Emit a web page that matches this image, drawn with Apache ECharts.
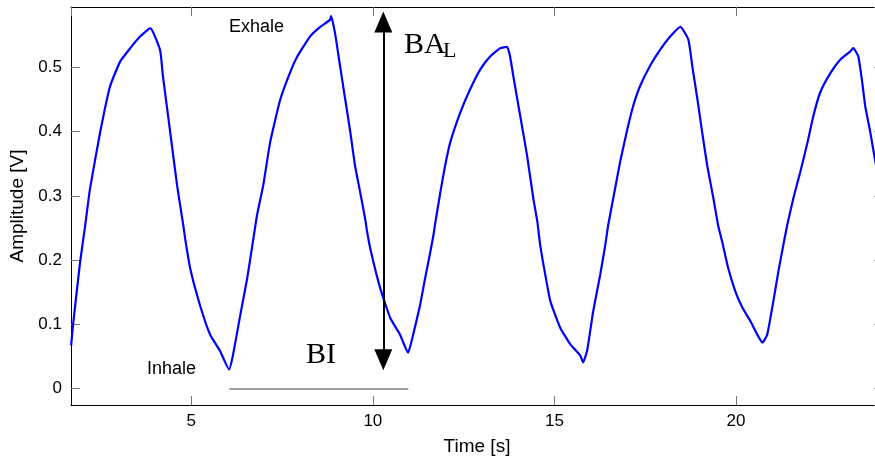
<!DOCTYPE html>
<html>
<head>
<meta charset="utf-8">
<script src="https://cdn.jsdelivr.net/npm/echarts@6/dist/echarts.min.js"></script>
<style>
html,body{margin:0;padding:0;background:#fff;overflow:hidden;width:875px;height:461px;}
#chart{width:900px;height:461px;}
</style>
</head>
<body>
<div id="chart"></div>
<script>
// ---- data ----
const timeS = [
  1.69, 1.745, 1.94, 2.08, 2.21, 2.49, 2.76, 3.04, 3.32, 3.59, 3.87, 4.14, 4.22, 4.42, 4.61, 4.78, 4.83, 4.97,
  5.24, 5.52, 5.79, 6.04, 6.15, 6.35, 6.54, 6.70, 6.81, 6.98, 7.17, 7.45, 7.72, 7.92, 8.27, 8.55, 8.82, 8.85,
  8.96, 9.10, 9.24, 9.38, 9.51, 9.65, 9.79, 9.84, 9.93, 10.20, 10.48, 10.75, 10.97, 11.11, 11.30, 11.44, 11.58,
  11.66, 11.72, 11.86, 11.99, 12.13, 12.41, 12.68, 12.96, 13.23, 13.51, 13.70, 13.78, 13.87, 14.06, 14.25, 14.42,
  14.53, 14.61, 14.75, 14.89, 15.16, 15.44, 15.71, 15.79, 15.90, 16.07, 16.26, 16.40, 16.48, 16.62, 16.81, 17.01,
  17.17, 17.36, 17.64, 17.92, 18.19, 18.47, 18.69, 18.80, 18.94, 19.07, 19.21, 19.38, 19.51, 19.62, 19.79, 19.98,
  20.18, 20.40, 20.59, 20.73, 20.86, 21.03, 21.17, 21.30, 21.41, 21.58, 21.77, 21.97, 22.13, 22.32, 22.60, 22.87,
  23.15, 23.23, 23.37, 23.48, 23.56, 23.70, 23.84, 23.95
];
const amplitudeV = [
  0.067, 0.100, 0.198, 0.255, 0.311, 0.399, 0.470, 0.509, 0.530, 0.548, 0.561, 0.527, 0.486, 0.399, 0.316, 0.254, 0.234, 0.187,
  0.130, 0.084, 0.059, 0.030, 0.053, 0.115, 0.172, 0.230, 0.270, 0.316, 0.383, 0.450, 0.492, 0.517, 0.548, 0.563, 0.574, 0.580,
  0.553, 0.501, 0.450, 0.399, 0.347, 0.306, 0.264, 0.245, 0.218, 0.157, 0.110, 0.084, 0.056, 0.084, 0.130, 0.172, 0.212,
  0.236, 0.258, 0.306, 0.347, 0.383, 0.430, 0.466, 0.497, 0.517, 0.530, 0.532, 0.517, 0.486, 0.424, 0.362, 0.296,
  0.260, 0.223, 0.177, 0.136, 0.095, 0.069, 0.052, 0.041, 0.059, 0.121, 0.177, 0.223, 0.254, 0.296, 0.353, 0.404,
  0.440, 0.471, 0.503, 0.528, 0.548, 0.563, 0.543, 0.501, 0.450, 0.399, 0.347, 0.296, 0.254, 0.229, 0.187, 0.152,
  0.126, 0.105, 0.084, 0.072, 0.084, 0.136, 0.183, 0.222, 0.254, 0.296, 0.337, 0.383, 0.424, 0.461, 0.491, 0.512,
  0.525, 0.530, 0.517, 0.476, 0.440, 0.399, 0.353, 0.320
];
const xTickLabels = ['5', '10', '15', '20'];
const yTickLabels = ['0', '0.1', '0.2', '0.3', '0.4', '0.5'];
const xRange = [1.687, 24.05];
const yRange = [-0.0253, 0.594];
// annotation anchors (data units)
const arrowTime = 10.288;
const arrowRange = [0.045, 0.5705];
const baselineRange = [6.047, 10.976];

const seriesData = timeS.map((t, i) => [t, amplitudeV[i]]);

const tickStyle = {show: true, inside: true, length: 9, lineStyle: {color: '#777', width: 1}};
const axisLineStyle = {show: true, onZero: false, lineStyle: {color: '#000', width: 1}};
const labelFont = {color: '#000', fontFamily: 'Liberation Sans, Arial, sans-serif', fontSize: 17};

const chart = echarts.init(document.getElementById('chart'), null, {renderer: 'canvas'});
chart.setOption({
  animation: false,
  backgroundColor: '#fff',
  grid: {left: 71, top: 7, width: 812, height: 400.7, containLabel: false},
  xAxis: [{
    type: 'value', min: xRange[0], max: xRange[1], position: 'bottom',
    axisLine: axisLineStyle, axisTick: tickStyle, splitLine: {show: false},
    axisLabel: Object.assign({margin: 8, showMinLabel: false, showMaxLabel: false,
      formatter: v => xTickLabels.includes(String(v)) ? String(v) : ''}, labelFont),
    name: 'Time [s]', nameLocation: 'middle', nameGap: 32,
    nameTextStyle: {color: '#000', fontFamily: 'Liberation Sans, Arial, sans-serif', fontSize: 19}
  }, {
    type: 'value', min: xRange[0], max: xRange[1], position: 'top',
    axisLine: axisLineStyle, axisTick: tickStyle, splitLine: {show: false},
    axisLabel: {show: false}
  }],
  yAxis: [{
    type: 'value', min: yRange[0], max: yRange[1], position: 'left',
    axisLine: axisLineStyle, axisTick: tickStyle, splitLine: {show: false},
    axisLabel: Object.assign({margin: 9, showMinLabel: false, showMaxLabel: false,
      formatter: v => { const s = String(Math.round(v * 10) / 10); return yTickLabels.includes(s) ? s : ''; }}, labelFont),
    name: 'Amplitude [V]', nameLocation: 'middle', nameGap: 38,
    nameTextStyle: {color: '#000', fontFamily: 'Liberation Sans, Arial, sans-serif', fontSize: 19}
  }, {
    type: 'value', min: yRange[0], max: yRange[1], position: 'right',
    axisLine: axisLineStyle, axisTick: tickStyle, splitLine: {show: false},
    axisLabel: {show: false}
  }],
  series: [{
    type: 'line',
    data: seriesData,
    showSymbol: false,
    symbol: 'none',
    smooth: 0.15,
    lineStyle: {color: '#0000ff', width: 2.2},
    itemStyle: {color: '#0000ff'},
    silent: true,
    markLine: {
      silent: true,
      animation: false,
      label: {show: false},
      emphasis: {disabled: true},
      data: [
        [{coord: [arrowTime, arrowRange[0]], symbol: 'triangle', symbolSize: [18, 21]},
         {coord: [arrowTime, arrowRange[1]], symbol: 'triangle', symbolSize: [18, 21],
          lineStyle: {color: '#000', width: 2, type: 'solid'}}],
        [{coord: [baselineRange[0], 0], symbol: 'none'},
         {coord: [baselineRange[1], 0], symbol: 'none',
          lineStyle: {color: '#808080', width: 1.5, type: 'solid'}}]
      ],
      lineStyle: {color: '#000', width: 2, type: 'solid'}
    }
  }],
  graphic: [
    {type: 'text', left: 229, top: 18, style: {text: 'Exhale', fill: '#000', font: '18px "Liberation Sans", Arial, sans-serif'}},
    {type: 'text', left: 147, top: 360, style: {text: 'Inhale', fill: '#000', font: '18px "Liberation Sans", Arial, sans-serif'}},
    {type: 'text', left: 404, top: 30, style: {text: 'BA', fill: '#000', font: '30px "Liberation Serif", "Times New Roman", serif'}},
    {type: 'text', left: 443, top: 40, style: {text: 'L', fill: '#000', font: '22px "Liberation Serif", "Times New Roman", serif'}},
    {type: 'text', left: 306, top: 340, style: {text: 'BI', fill: '#000', font: '30px "Liberation Serif", "Times New Roman", serif'}}
  ]
});
</script>
</body>
</html>
